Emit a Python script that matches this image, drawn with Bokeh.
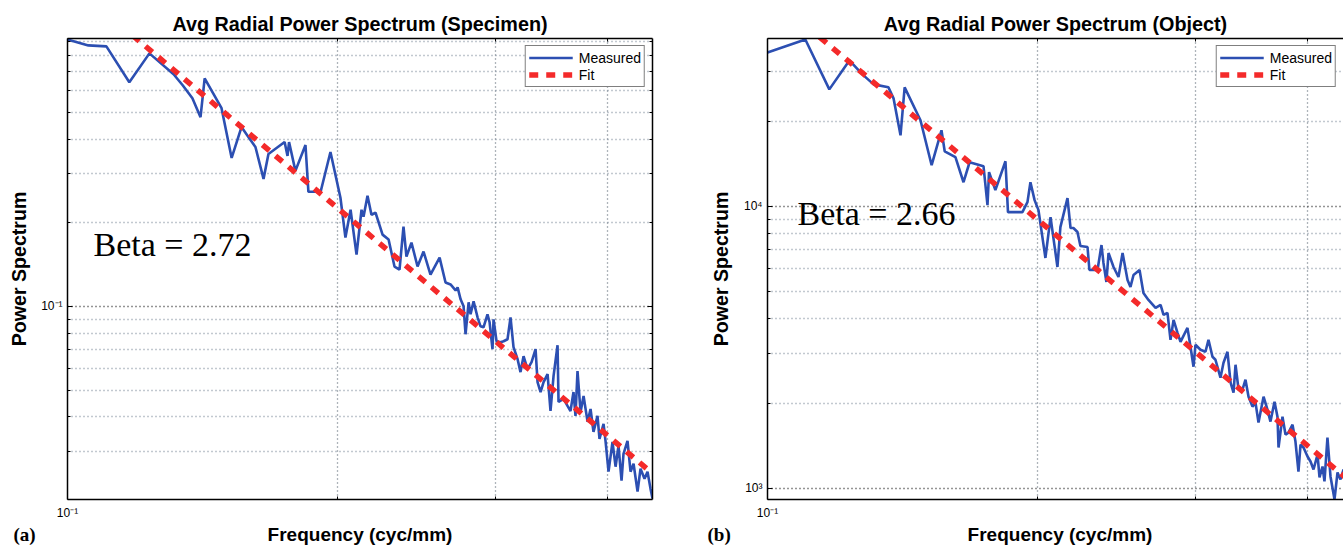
from bokeh.plotting import figure
from bokeh.layouts import row, column
from bokeh.models import FixedTicker, LogAxis, Label, Range1d
from bokeh.embed import file_html
from bokeh.resources import INLINE

# ---------------- data ----------------
freq_a = [0.1000, 0.1055, 0.1105, 0.1172, 0.1234, 0.1313, 0.1344, 0.1378, 0.1407, 0.1422,
          0.1485, 0.1524, 0.1563, 0.1591, 0.1620, 0.1654, 0.1675, 0.1746, 0.1759, 0.1766,
          0.1795, 0.1842, 0.1856, 0.1915, 0.1964, 0.2015, 0.2041, 0.2068, 0.2100, 0.2127,
          0.2138, 0.2160, 0.2182, 0.2205, 0.2245, 0.2280, 0.2315, 0.2345, 0.2369, 0.2387,
          0.2418, 0.2456, 0.2494, 0.2539, 0.2599, 0.2639, 0.2673, 0.2708, 0.2722, 0.2743,
          0.2764, 0.2778, 0.2800, 0.2814, 0.2836, 0.2865, 0.2887, 0.2909, 0.2939, 0.2955,
          0.2977, 0.2985, 0.3008, 0.3039, 0.3063, 0.3094, 0.3118, 0.3142, 0.3175, 0.3199,
          0.3224, 0.3257, 0.3291, 0.3325, 0.3342, 0.3368, 0.3394, 0.3429, 0.3455, 0.3482,
          0.3518, 0.3527, 0.3573, 0.3609, 0.3637, 0.3665, 0.3684, 0.3703, 0.3732, 0.3761,
          0.3800, 0.3829, 0.3858, 0.3898, 0.3918, 0.3959, 0.3979, 0.4010, 0.4051, 0.4083,
          0.4114, 0.4146, 0.4167, 0.4210, 0.4243, 0.4276, 0.4320, 0.4353, 0.4398, 0.4432,
          0.4466, 0.4489]
power_a = [0.9133, 0.8692, 0.8620, 0.6404, 0.8137, 0.6842, 0.6248, 0.5612, 0.4797, 0.6618,
           0.5167, 0.3420, 0.4417, 0.4068, 0.3745, 0.2876, 0.3535, 0.3903, 0.3477, 0.3903,
           0.3073, 0.3808, 0.2584, 0.2584, 0.3594, 0.2459, 0.1768, 0.2227, 0.1536, 0.2227,
           0.2102, 0.2500, 0.2137, 0.2172, 0.1812, 0.1739, 0.1391, 0.1357, 0.1935, 0.1511,
           0.1696, 0.1391, 0.1575, 0.1302, 0.1498, 0.1219, 0.1199, 0.1141, 0.1170, 0.1060,
           0.1000, 0.07936, 0.1034, 0.09361, 0.1042, 0.09133, 0.08477, 0.08408, 0.09361, 0.08764,
           0.07015, 0.08983, 0.07490, 0.07428, 0.07490, 0.07614, 0.09133, 0.07132, 0.06456, 0.05800,
           0.06618, 0.05945, 0.06302, 0.07015, 0.05340, 0.04917, 0.05340, 0.05705, 0.04203, 0.05612,
           0.07250, 0.04529, 0.04642, 0.04382, 0.04203, 0.04917, 0.04034, 0.05848, 0.04169, 0.04759,
           0.03839, 0.04272, 0.03535, 0.04034, 0.03337, 0.03776, 0.03282, 0.02541, 0.03255, 0.02648,
           0.03149, 0.02359, 0.02948, 0.03282, 0.02541, 0.02715, 0.02154, 0.02604, 0.02398, 0.02541,
           0.02208, 0.02033]
fit_freq_a = [0.1, 0.4489]
fit_power_a = [1.488, 0.02505]
beta_a = 2.72

freq_b = [0.1000, 0.1102, 0.1172, 0.1234, 0.1276, 0.1313, 0.1364, 0.1382, 0.1407, 0.1422,
          0.1481, 0.1524, 0.1563, 0.1576, 0.1620, 0.1654, 0.1680, 0.1741, 0.1759, 0.1766,
          0.1795, 0.1842, 0.1854, 0.1924, 0.1949, 0.1964, 0.1985, 0.2005, 0.2041, 0.2068,
          0.2105, 0.2121, 0.2160, 0.2177, 0.2193, 0.2216, 0.2233, 0.2274, 0.2285, 0.2333,
          0.2357, 0.2369, 0.2387, 0.2400, 0.2431, 0.2462, 0.2488, 0.2520, 0.2539, 0.2559,
          0.2599, 0.2625, 0.2659, 0.2708, 0.2743, 0.2764, 0.2792, 0.2814, 0.2836, 0.2865,
          0.2887, 0.2939, 0.2962, 0.2985, 0.3000, 0.3039, 0.3078, 0.3102, 0.3134, 0.3158,
          0.3199, 0.3224, 0.3257, 0.3283, 0.3308, 0.3325, 0.3351, 0.3385, 0.3411, 0.3438,
          0.3473, 0.3500, 0.3527, 0.3573, 0.3609, 0.3637, 0.3675, 0.3703, 0.3713, 0.3751,
          0.3780, 0.3809, 0.3849, 0.3878, 0.3908, 0.3929, 0.3959, 0.4000, 0.4031, 0.4062,
          0.4104, 0.4125, 0.4157, 0.4178, 0.4210, 0.4243, 0.4287, 0.4320, 0.4353, 0.4387,
          0.4432]
power_b = [35010, 38910, 25910, 32810, 29280, 26990, 26340, 24080, 17820, 26340,
           20140, 13960, 18560, 15640, 14900, 12150, 14300, 13850, 10080, 13190,
           11390, 14420, 9524, 9524, 10330, 12150, 10500, 9680, 6553, 9145,
           6087, 8429, 10670, 8362, 8362, 8094, 7222, 7163, 5940, 5940,
           7281, 6290, 5388, 6824, 6087, 5612, 6824, 5476, 5173, 5704,
           5940, 4927, 4653, 4360, 4468, 4119, 4186, 3361, 3955, 3557,
           3307, 3705, 3176, 2699, 3228, 3099, 3048, 3361, 2927, 2857,
           2468, 2788, 3048, 2369, 2184, 2743, 2238, 2238, 2428, 2114,
           1949, 2013, 1711, 2114, 1902, 1725, 2030, 1796, 1396, 1796,
           1552, 1577, 1683, 1466, 1148, 1430, 1396, 1298, 1246, 1167,
           1319, 1094, 1196, 1059, 1514, 1103, 914.5, 1139, 1076, 1167,
           1076]
fit_freq_b = [0.1, 0.4489]
fit_power_b = [56640, 1043]
beta_b = 2.66

x_major = [0.1]
x_minor = [0.2, 0.3, 0.4]
x_labels = {0.1: "10\u207b\u00b9"}
ya_major = [0.1]
ya_minor = [0.02, 0.03, 0.04, 0.05, 0.06, 0.07, 0.08, 0.09, 0.2, 0.3, 0.4, 0.5, 0.6, 0.7, 0.8, 0.9]
ya_labels = {0.1: "10\u207b\u00b9"}
yb_major = [1000, 10000]
yb_minor = [2000, 3000, 4000, 5000, 6000, 7000, 8000, 9000, 20000, 30000]
yb_labels = {1000: "10\u00b3", 10000: "10\u2074"}

x_title = "Frequency (cyc/mm)"
y_title = "Power Spectrum"

SANS = "Liberation Sans"
SERIF = "Liberation Serif"
BLUE = "#2c4fb2"
RED = "#f42a2a"
H = 522          # height of the two panels
STRIP_H = 24     # bottom strip holding x-axis titles and panel tags
TOP = 38
BOTTOM = 21


def style_box_axis(ax):
    ax.major_label_text_font_size = "1px"
    ax.major_label_text_color = None
    ax.major_label_standoff = 0
    ax.major_tick_in = 5
    ax.major_tick_out = 0
    ax.minor_tick_in = 3
    ax.minor_tick_out = 0
    ax.axis_line_color = "black"
    ax.axis_line_width = 1.5
    ax.major_tick_line_color = "black"
    ax.minor_tick_line_color = "black"


def make_panel(title, freq, power, fit_f, fit_p, x_end, y_rng, y_major, y_minor, y_labels,
               beta, width, border_right, right_box, ylab_standoff, beta_xy, title_offset):
    p = figure(width=width, height=H, x_axis_type="log", y_axis_type="log",
               x_range=Range1d(0.1, x_end), y_range=Range1d(*y_rng),
               output_backend="svg", toolbar_location=None, title=title,
               min_border_left=67, min_border_right=border_right,
               min_border_top=TOP, min_border_bottom=BOTTOM)
    p.outline_line_color = None
    p.background_fill_color = "white"
    p.border_fill_color = "white"

    xt = FixedTicker(ticks=x_major, minor_ticks=x_minor)
    yt = FixedTicker(ticks=y_major, minor_ticks=y_minor)

    xa = p.below[0]
    ya = p.left[0]
    xa.ticker = xt
    ya.ticker = yt
    xa.major_label_overrides = x_labels
    ya.major_label_overrides = y_labels
    for ax in (xa, ya):
        ax.major_label_text_font = SANS
        ax.major_label_text_font_size = "12px"
        ax.major_label_text_color = "black"
        ax.axis_label_text_font = SANS
        ax.axis_label_text_font_size = "19.6px"
        ax.axis_label_text_font_style = "bold"
        ax.axis_label_text_color = "black"
        ax.major_tick_in = 5
        ax.major_tick_out = 0
        ax.minor_tick_in = 3
        ax.minor_tick_out = 0
        ax.axis_line_color = "black"
        ax.axis_line_width = 1.5
    ya.axis_label = y_title
    xa.major_label_standoff = 6
    ya.major_label_standoff = 5
    ya.axis_label_standoff = ylab_standoff

    p.xgrid.ticker = xt
    p.ygrid.ticker = yt
    p.xgrid.grid_line_color = "#444444"
    p.xgrid.grid_line_dash = "1 3"
    p.xgrid.minor_grid_line_color = "#5e6a76"
    p.xgrid.minor_grid_line_dash = "1 3"
    p.xgrid.minor_grid_line_width = 1.3
    p.ygrid.grid_line_color = "#2a2a2a"
    p.ygrid.grid_line_dash = "1 3"
    p.ygrid.grid_line_width = 1.4
    p.ygrid.minor_grid_line_color = "#8593a0"
    p.ygrid.minor_grid_line_dash = "1 3"
    p.ygrid.minor_grid_line_width = 1.3

    top_ax = LogAxis(ticker=xt)
    style_box_axis(top_ax)
    p.add_layout(top_ax, "above")
    if right_box:
        r_ax = LogAxis(ticker=yt)
        style_box_axis(r_ax)
        p.add_layout(r_ax, "right")

    p.title.text_font = SANS
    p.title.text_font_size = "19.8px"
    p.title.text_font_style = "bold"
    p.title.text_color = "black"
    p.title.align = "center"
    p.title.standoff = 8
    p.title.offset = title_offset

    p.line(freq, power, line_color=BLUE, line_width=2.6, legend_label="Measured")
    p.line(fit_f, fit_p, line_color=RED, line_width=5.5, line_dash="9 8",
           legend_label="Fit")

    lg = p.legend[0]
    lg.location = "top_right"
    lg.margin = 7
    lg.padding = 3
    lg.spacing = 0
    lg.label_text_font = SANS
    lg.label_text_font_size = "14px"
    lg.label_text_color = "black"
    lg.glyph_width = 44
    lg.glyph_height = 17
    lg.label_height = 17
    lg.label_standoff = 6
    lg.border_line_color = "black"
    lg.border_line_width = 1.3
    lg.background_fill_color = "white"
    lg.background_fill_alpha = 1.0

    p.add_layout(Label(x=beta_xy[0], y=beta_xy[1], x_units="screen", y_units="screen",
                       text=f"Beta = {beta:.2f}", text_font=SERIF, text_font_size="34px",
                       text_color="black", text_baseline="middle"))
    return p


p1 = make_panel("Avg Radial Power Spectrum (Specimen)", freq_a, power_a, fit_freq_a, fit_power_a,
                0.4489, (0.02018, 0.9204), ya_major, ya_minor, ya_labels, beta_a,
                width=700, border_right=48, right_box=True, ylab_standoff=8,
                beta_xy=(26, 255), title_offset=2)
p2 = make_panel("Avg Radial Power Spectrum (Object)", freq_b, power_b, fit_freq_b, fit_power_b,
                0.4387, (914, 39230), yb_major, yb_minor, yb_labels, beta_b,
                width=643, border_right=0, right_box=False, ylab_standoff=9,
                beta_xy=(30, 286), title_offset=6)

# bottom strip: x-axis titles and panel tags, on one line as in the figure
strip = figure(width=1343, height=STRIP_H, x_range=Range1d(0, 1), y_range=Range1d(0, 1),
               x_axis_location=None, y_axis_location=None, toolbar_location=None,
               output_backend="svg", min_border=0)
strip.outline_line_color = None
strip.grid.visible = False
strip.background_fill_color = "white"
strip.border_fill_color = "white"
for tx, txt, font, size, align in [(13, "(a)", SERIF, "19px", "left"),
                                   (359.5, x_title, SANS, "19px", "center"),
                                   (707, "(b)", SERIF, "19px", "left"),
                                   (1059.5, x_title, SANS, "19px", "center")]:
    strip.add_layout(Label(x=tx, y=12, x_units="screen", y_units="screen", text=txt,
                           text_font=font, text_font_size=size, text_font_style="bold",
                           text_color="black", text_align=align, text_baseline="middle"))

layout = column(row(p1, p2), strip)
open("out.html", "w").write(file_html(layout, INLINE))
